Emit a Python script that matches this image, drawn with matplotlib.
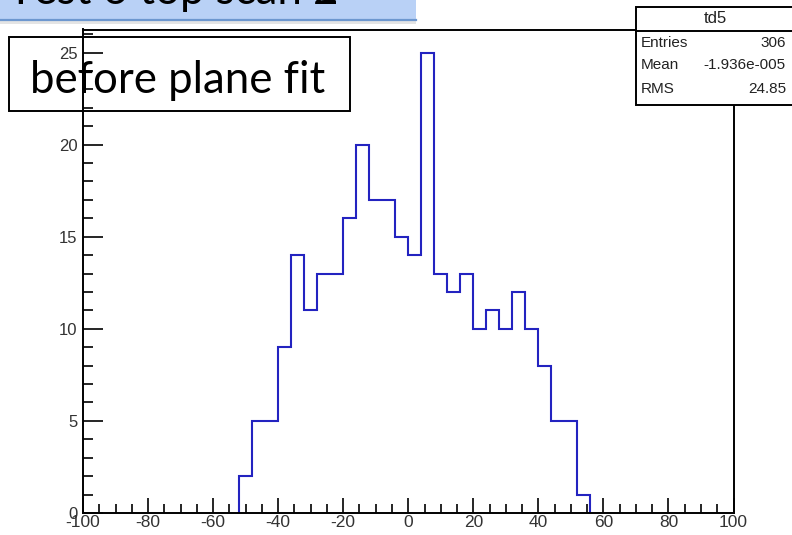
#!/usr/bin/env python3
# -*- coding: utf-8 -*-

import numpy as np
import matplotlib
matplotlib.use("Agg")
import matplotlib.pyplot as plt
from matplotlib.patches import Rectangle
from matplotlib.ticker import MultipleLocator


# histogram td5, 4-unit bins
edges = [-52, -48, -44, -40, -36, -32, -28, -24, -20, -16, -12, -8, -4, 0,
         4, 8, 12, 16, 20, 24, 28, 32, 36, 40, 44, 48, 52, 56]
counts = [2, 5, 5, 9, 14, 11, 13, 13, 16, 20, 17, 17, 15, 14,
          25, 13, 12, 13, 10, 11, 10, 12, 10, 8, 5, 5, 1]

stat_names = ["Entries", "Mean", "RMS"]
stat_values = ["306", "-1.936e-005", "24.85"]
hist_name = "td5"
slide_title = "Test 6 top scan 2"
box_label = "before plane fit"

W, H = 792, 535

plt.rcParams["axes.unicode_minus"] = False


def fx(px):
    return px / W


def fy(py):
    # pixel row from top -> figure fraction
    return 1 - py / H


fig = plt.figure(figsize=(W / 100, H / 100), dpi=100)
fig.patch.set_facecolor("white")

ax = fig.add_axes([fx(83), fy(513), fx(733.5) - fx(83), fy(29.5) - fy(513)])
ax.stairs(counts, edges, baseline=0, color="#2323c0", linewidth=1.5)
ax.set_xlim(-100, 100)
ax.set_ylim(0, 26.25)

for s in ax.spines.values():
    s.set_linewidth(1.4)
    s.set_color("black")

ax.xaxis.set_major_locator(MultipleLocator(20))
ax.xaxis.set_minor_locator(MultipleLocator(5))
ax.yaxis.set_major_locator(MultipleLocator(5))
ax.yaxis.set_minor_locator(MultipleLocator(1))

ax.tick_params(axis="x", which="major", direction="in", length=10.8, width=1.2,
               pad=1.5, labelsize=12.5, labelcolor="#333333")
ax.tick_params(axis="x", which="minor", direction="in", length=6.5, width=1.2)
ax.tick_params(axis="y", which="major", direction="in", length=14.4, width=1.2,
               pad=4, labelsize=12, labelcolor="#333333")
ax.tick_params(axis="y", which="minor", direction="in", length=7.2, width=1.2)
for lab in ax.get_xticklabels() + ax.get_yticklabels():
    lab.set_fontfamily("Liberation Sans")

# slide title banner (cut off at the top)
fig.patches.append(Rectangle((0, fy(19.5)), fx(416), 1 - fy(19.5),
                             transform=fig.transFigure, facecolor="#b9d1f6",
                             edgecolor="none", zorder=1))
fig.lines.append(plt.Line2D([0, fx(416)], [fy(20), fy(20)], transform=fig.transFigure,
                            color="#6d97cf", linewidth=1.6, zorder=2))
fig.patches.append(Rectangle((0, fy(24)), fx(416), fy(21) - fy(24),
                             transform=fig.transFigure, facecolor="#e4e4e4",
                             edgecolor="none", zorder=1))
fig.text(fx(8), fy(4), slide_title, fontsize=31.5, family="Lato", color="black",
         ha="left", va="baseline", zorder=3)

# label box
fig.patches.append(Rectangle((fx(8.5), fy(111)), fx(350) - fx(8.5), fy(37.5) - fy(111),
                             transform=fig.transFigure, facecolor="none",
                             edgecolor="black", linewidth=1.4, zorder=5))
fig.text(fx(30), fy(93), box_label, fontsize=31.5, family="Lato", color="black",
         ha="left", va="baseline", zorder=4)

# stats box
fig.patches.append(Rectangle((fx(636), fy(105)), fx(800) - fx(636), fy(7) - fy(105),
                             transform=fig.transFigure, facecolor="white",
                             edgecolor="black", linewidth=1.4, zorder=5))
fig.lines.append(plt.Line2D([fx(636), 1], [fy(30.5), fy(30.5)], transform=fig.transFigure,
                            color="black", linewidth=1.4, zorder=6))
fig.text(fx(715), fy(18.5), hist_name, fontsize=12, family="Liberation Sans",
         color="#222222", ha="center", va="center", zorder=6)
for i, (n, v) in enumerate(zip(stat_names, stat_values)):
    yy = fy([43, 65, 89][i])
    fig.text(fx(641), yy, n, fontsize=11, family="Liberation Sans", color="#222222",
             ha="left", va="center", zorder=6)
    fig.text(fx(786), yy, v, fontsize=11, family="Liberation Sans", color="#222222",
             ha="right", va="center", zorder=6)

fig.savefig("out.png", dpi=100)
